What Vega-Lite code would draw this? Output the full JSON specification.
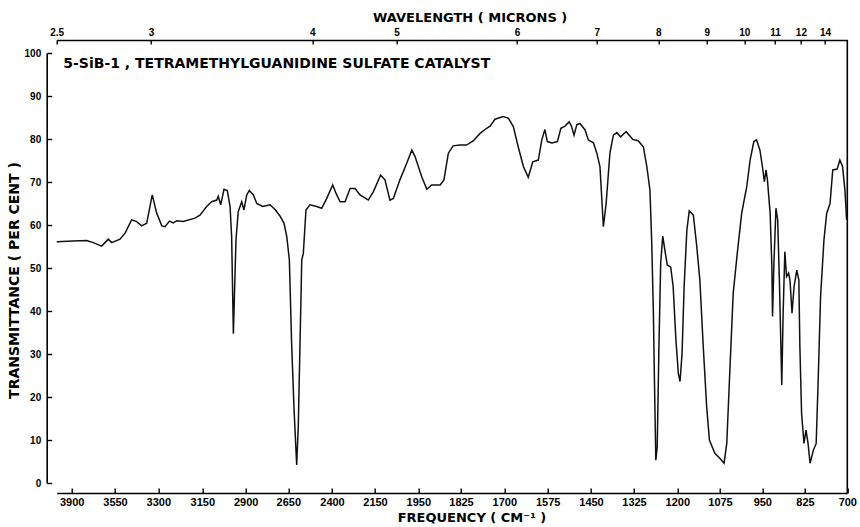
{
  "$schema": "https://vega.github.io/schema/vega-lite/v6.json",
  "autosize": "none",
  "width": 791,
  "height": 430,
  "padding": {"left": 56.7, "top": 53, "right": 12.3, "bottom": 44},
  "background": "white",
  "config": {"view": {"stroke": null}, "axis": {"grid": false, "domainColor": "#000", "tickColor": "#000", "labelColor": "#000", "titleColor": "#000", "domainWidth": 1.6, "tickWidth": 1.4}},
  "resolve": {"axis": {"x": "independent", "y": "independent"}},
  "layer": [
    {
      "data": {"values": [
        {"wn":4000,"t":56.1},{"wn":3887,"t":56.3},{"wn":3779,"t":56.4},{"wn":3725,"t":55.9},{"wn":3658,"t":55.1},{"wn":3631,"t":55.9},{"wn":3604,"t":56.7},{"wn":3577,"t":55.9},{"wn":3521,"t":56.7},{"wn":3492,"t":58.1},{"wn":3454,"t":61.2},{"wn":3425,"t":60.8},{"wn":3396,"t":59.8},{"wn":3367,"t":60.4},{"wn":3335,"t":67.0},{"wn":3309,"t":62.7},{"wn":3288,"t":59.8},{"wn":3277,"t":59.6},{"wn":3262,"t":60.9},{"wn":3249,"t":60.5},{"wn":3237,"t":61.0},{"wn":3215,"t":60.8},{"wn":3175,"t":61.6},{"wn":3158,"t":62.3},{"wn":3125,"t":64.3},{"wn":3096,"t":65.4},{"wn":3067,"t":65.8},{"wn":3058,"t":66.7},{"wn":3044,"t":64.7},{"wn":3025,"t":68.3},{"wn":3006,"t":68.0},{"wn":2990,"t":64.3},{"wn":2981,"t":57.3},{"wn":2971,"t":34.7},{"wn":2956,"t":56.5},{"wn":2943,"t":63.1},{"wn":2923,"t":65.4},{"wn":2910,"t":63.5},{"wn":2894,"t":67.0},{"wn":2879,"t":68.0},{"wn":2855,"t":67.0},{"wn":2835,"t":65.0},{"wn":2800,"t":64.3},{"wn":2757,"t":64.7},{"wn":2728,"t":63.6},{"wn":2699,"t":62.1},{"wn":2675,"t":60.4},{"wn":2659,"t":57.3},{"wn":2644,"t":51.9},{"wn":2631,"t":32.5},{"wn":2617,"t":17.0},{"wn":2602,"t":4.2},{"wn":2593,"t":13.1},{"wn":2583,"t":32.5},{"wn":2573,"t":51.9},{"wn":2564,"t":53.4},{"wn":2549,"t":63.5},{"wn":2526,"t":64.7},{"wn":2488,"t":64.3},{"wn":2459,"t":63.9},{"wn":2430,"t":66.2},{"wn":2396,"t":69.3},{"wn":2377,"t":67.4},{"wn":2353,"t":65.4},{"wn":2324,"t":65.4},{"wn":2295,"t":68.5},{"wn":2266,"t":68.5},{"wn":2237,"t":67.0},{"wn":2189,"t":65.8},{"wn":2160,"t":67.7},{"wn":2124,"t":71.6},{"wn":2104,"t":70.5},{"wn":2081,"t":65.8},{"wn":2065,"t":66.2},{"wn":2035,"t":70.5},{"wn":2004,"t":74.3},{"wn":1980,"t":77.4},{"wn":1965,"t":75.9},{"wn":1940,"t":71.2},{"wn":1925,"t":68.3},{"wn":1911,"t":69.3},{"wn":1886,"t":69.3},{"wn":1875,"t":70.5},{"wn":1862,"t":76.7},{"wn":1848,"t":78.4},{"wn":1828,"t":78.6},{"wn":1809,"t":78.6},{"wn":1789,"t":79.6},{"wn":1770,"t":81.3},{"wn":1751,"t":82.5},{"wn":1741,"t":83.0},{"wn":1727,"t":84.6},{"wn":1703,"t":85.2},{"wn":1688,"t":84.8},{"wn":1674,"t":82.9},{"wn":1660,"t":78.2},{"wn":1645,"t":73.6},{"wn":1631,"t":71.1},{"wn":1618,"t":74.7},{"wn":1602,"t":75.1},{"wn":1592,"t":79.8},{"wn":1583,"t":82.2},{"wn":1576,"t":79.4},{"wn":1563,"t":79.1},{"wn":1547,"t":79.4},{"wn":1537,"t":82.5},{"wn":1525,"t":83.0},{"wn":1513,"t":84.0},{"wn":1506,"t":82.9},{"wn":1499,"t":80.9},{"wn":1491,"t":83.3},{"wn":1482,"t":83.6},{"wn":1467,"t":82.1},{"wn":1458,"t":79.8},{"wn":1443,"t":79.1},{"wn":1433,"t":76.7},{"wn":1424,"t":73.6},{"wn":1414,"t":59.6},{"wn":1406,"t":65.0},{"wn":1395,"t":76.7},{"wn":1385,"t":80.9},{"wn":1375,"t":81.5},{"wn":1364,"t":80.5},{"wn":1348,"t":81.7},{"wn":1335,"t":80.5},{"wn":1329,"t":79.9},{"wn":1313,"t":79.6},{"wn":1298,"t":78.2},{"wn":1288,"t":73.6},{"wn":1279,"t":68.1},{"wn":1274,"t":56.5},{"wn":1269,"t":39.5},{"wn":1266,"t":24.0},{"wn":1262,"t":5.3},{"wn":1258,"t":8.4},{"wn":1253,"t":31.7},{"wn":1248,"t":51.1},{"wn":1242,"t":57.4},{"wn":1236,"t":54.2},{"wn":1229,"t":50.7},{"wn":1219,"t":50.2},{"wn":1212,"t":45.7},{"wn":1204,"t":33.3},{"wn":1197,"t":25.5},{"wn":1192,"t":23.6},{"wn":1186,"t":30.2},{"wn":1180,"t":45.7},{"wn":1172,"t":58.8},{"wn":1165,"t":63.3},{"wn":1153,"t":62.3},{"wn":1143,"t":55.0},{"wn":1134,"t":47.2},{"wn":1124,"t":31.7},{"wn":1114,"t":17.7},{"wn":1106,"t":10.0},{"wn":1090,"t":6.9},{"wn":1075,"t":5.7},{"wn":1063,"t":4.6},{"wn":1055,"t":9.2},{"wn":1045,"t":27.8},{"wn":1036,"t":44.1},{"wn":1024,"t":53.4},{"wn":1011,"t":62.7},{"wn":996,"t":68.9},{"wn":986,"t":75.1},{"wn":975,"t":79.4},{"wn":967,"t":79.8},{"wn":957,"t":77.4},{"wn":949,"t":73.2},{"wn":944,"t":70.1},{"wn":939,"t":72.8},{"wn":935,"t":70.5},{"wn":927,"t":62.7},{"wn":922,"t":50.3},{"wn":920,"t":38.7},{"wn":916,"t":51.1},{"wn":910,"t":63.9},{"wn":905,"t":61.2},{"wn":900,"t":47.2},{"wn":893,"t":22.8},{"wn":889,"t":39.5},{"wn":884,"t":53.8},{"wn":879,"t":48.0},{"wn":873,"t":48.8},{"wn":869,"t":47.2},{"wn":863,"t":39.5},{"wn":857,"t":45.7},{"wn":849,"t":49.5},{"wn":843,"t":47.2},{"wn":840,"t":31.7},{"wn":835,"t":16.2},{"wn":828,"t":9.2},{"wn":822,"t":12.3},{"wn":816,"t":9.2},{"wn":810,"t":4.6},{"wn":800,"t":7.7},{"wn":792,"t":9.2},{"wn":786,"t":24.0},{"wn":779,"t":43.3},{"wn":769,"t":56.5},{"wn":761,"t":62.7},{"wn":751,"t":65.0},{"wn":743,"t":72.8},{"wn":730,"t":73.0},{"wn":722,"t":75.1},{"wn":714,"t":73.6},{"wn":707,"t":68.1},{"wn":702,"t":61.2}
      ]},
      "mark": {"type": "line", "color": "#111", "strokeWidth": 1.5},
      "encoding": {
        "x": {"field": "wn", "type": "quantitative",
          "scale": {"domain": [4000,3900,3550,3300,3150,2900,2650,2400,2150,1950,1825,1700,1575,1450,1325,1200,1075,950,825,700],
                    "range": [0,15,58.3,101.6,145.6,189,231.6,275.3,318.3,361.6,404.3,447.6,491,534.3,577.3,620.6,663.3,705.6,748.3,790.6],
                    "nice": false, "zero": false},
          "axis": {"orient": "bottom", "offset": 10, "values": [3900,3550,3300,3150,2900,2650,2400,2150,1950,1825,1700,1575,1450,1325,1200,1075,950,825,700],
                   "format": "d", "tickSize": -5, "labelPadding": 8, "labelOverlap": false, "labelFlush": false,
                   "labelFont": "Liberation Sans", "labelFontWeight": "bold", "labelFontSize": 11,
                   "title": "FREQUENCY ( CM⁻¹ )", "titleFont": "DejaVu Sans", "titleFontWeight": "bold", "titleFontSize": 13,
                   "titleX": 414.8, "titleY": 28.5, "titleBaseline": "alphabetic", "titleAlign": "center"}},
        "y": {"field": "t", "type": "quantitative",
          "scale": {"domain": [0, 100], "nice": false, "zero": false},
          "axis": {"orient": "left", "offset": 10, "values": [0,10,20,30,40,50,60,70,80,90,100], "tickSize": -5, "labelPadding": 11,
                   "labelOverlap": false, "labelFlush": false,
                   "labelFont": "Liberation Sans", "labelFontWeight": "bold", "labelFontSize": 10,
                   "title": "TRANSMITTANCE ( PER CENT )", "titleFont": "DejaVu Sans", "titleFontWeight": "bold", "titleFontSize": 14,
                   "titleX": -28, "titleY": 227, "titleBaseline": "alphabetic", "titleAlign": "center", "titleAngle": -90}}
      }
    },
    {
      "data": {"values": [{"frame": "right"}]},
      "mark": {"type": "rule", "color": "#000", "strokeWidth": 1.6},
      "encoding": {
        "x": {"datum": 700, "type": "quantitative",
          "axis": {"orient": "top", "offset": 13, "values": [4000,3342,2513,2050,1663,1433,1255,1114,1003,913,837,766],
                   "labelExpr": "['2.5','3','4','5','6','7','8','9','10','11','12','14'][indexof([4000,3342,2513,2050,1663,1433,1255,1114,1003,913,837,766], datum.value)]",
                   "tickSize": -4, "labelPadding": 7, "labelOverlap": false, "labelFlush": false,
                   "labelFont": "Liberation Sans", "labelFontWeight": "bold", "labelFontSize": 10,
                   "title": "WAVELENGTH ( MICRONS )", "titleFont": "DejaVu Sans", "titleFontWeight": "bold", "titleFontSize": 13,
                   "titleX": 413, "titleY": -18.3, "titleBaseline": "alphabetic", "titleAlign": "center"}},
        "y": {"datum": 103, "type": "quantitative", "axis": null},
        "y2": {"datum": -2.33}
      }
    },
    {
      "data": {"values": [{"label": "5-SiB-1 , TETRAMETHYLGUANIDINE SULFATE CATALYST"}]},
      "mark": {"type": "text", "align": "left", "baseline": "alphabetic", "font": "DejaVu Sans", "fontWeight": "bold", "fontSize": 14, "color": "#000"},
      "encoding": {
        "x": {"datum": 3956, "type": "quantitative", "axis": null},
        "y": {"datum": 96.6, "type": "quantitative", "axis": null},
        "text": {"field": "label", "type": "nominal"}
      }
    }
  ]
}
